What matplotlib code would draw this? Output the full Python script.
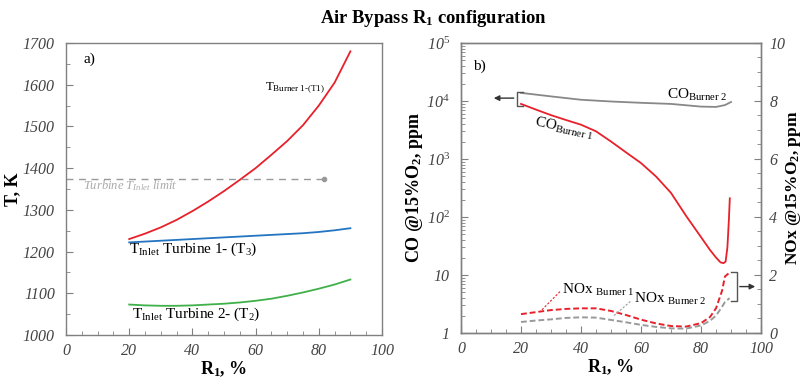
import matplotlib.pyplot as plt
import matplotlib.ticker as mticker

plt.rcParams['font.family'] = ['Liberation Serif', 'DejaVu Serif']
plt.rcParams['mathtext.fontset'] = 'custom'
plt.rcParams['mathtext.rm'] = 'Liberation Serif'
plt.rcParams['mathtext.it'] = 'Liberation Serif:italic'
plt.rcParams['mathtext.bf'] = 'Liberation Serif:bold'

# ---- panel a) temperatures ----
r1 = [20, 25, 30, 35, 40, 45, 50, 55, 60, 65, 70, 75, 80, 85, 90]
t_burner1 = [1230, 1243, 1258, 1276, 1297, 1320, 1345, 1372, 1400, 1432, 1465, 1503, 1550, 1605, 1680]
t_inlet1 = [1222, 1224, 1226, 1228, 1230, 1232, 1234, 1236, 1238, 1240, 1242, 1244, 1247, 1251, 1256]
t_inlet2 = [1073, 1071, 1070, 1070, 1071, 1073, 1075, 1078, 1082, 1087, 1094, 1102, 1111, 1121, 1133]
t_limit = 1375
t_limit_end = 81.5

# ---- panel b) emissions ----
r1_co2 = [20, 30, 40, 50, 60, 70, 80, 85, 88, 90]
co_burner2 = [13800, 12000, 10500, 9800, 9300, 8900, 8000, 7900, 8500, 9600]
r1_co1 = [20, 25, 30, 35, 40, 45, 50, 55, 60, 65, 70, 75, 80, 83, 85, 86.5, 87.5, 88.2, 88.8, 89.3, 89.6]
co_burner1 = [8900, 7100, 5700, 4700, 3900, 3000, 2000, 1300, 850, 500, 260, 105, 45, 27, 20, 16.5, 16, 17, 30, 90, 210]
r1_nox = [20, 25, 30, 35, 40, 45, 50, 55, 60, 65, 70, 75, 80, 83, 85, 87, 88, 89.5]
nox_burner1 = [0.65, 0.72, 0.79, 0.83, 0.85, 0.85, 0.76, 0.62, 0.46, 0.33, 0.24, 0.22, 0.34, 0.55, 0.85, 1.45, 1.95, 2.08]
nox_burner2 = [0.38, 0.43, 0.47, 0.52, 0.54, 0.53, 0.45, 0.37, 0.28, 0.21, 0.16, 0.15, 0.26, 0.42, 0.6, 0.9, 1.07, 1.2]

x_ticks = [0, 20, 40, 60, 80, 100]
t_ticks = [1000, 1100, 1200, 1300, 1400, 1500, 1600, 1700]
co_ticks = [1, 10, 100, 1000, 1e4, 1e5]
co_labels = ['1', '10', '10$^2$', '10$^3$', '10$^4$', '10$^5$']
nox_ticks = [0, 2, 4, 6, 8, 10]

tick_color = '#444444'
spine_color = '#808080'

fig = plt.figure(figsize=(8.03, 3.79), dpi=100)
ax1 = fig.add_axes([0.0822, 0.1161, 0.3935, 0.7704])
ax2 = fig.add_axes([0.5741, 0.1214, 0.3736, 0.7652])

fig.text(0.54, 0.952, r'Air Bypass R$_\mathbf{1}$ configuration', ha='center', va='center',
         fontsize=13.4, fontweight='bold')


def style_axis(ax, ypad=8):
    for s in ax.spines.values():
        s.set_color(spine_color)
        s.set_linewidth(1.0)
    ax.tick_params(which='both', direction='in', colors=spine_color, labelcolor=tick_color,
                   labelsize=11.5)
    ax.tick_params(which='major', length=5)
    ax.tick_params(which='minor', length=3)
    ax.tick_params(axis='x', pad=6)
    ax.tick_params(axis='y', pad=ypad)


# panel a
ax1.plot(r1, t_burner1, color='#e8202a', lw=1.3)
ax1.plot(r1, t_inlet1, color='#2474c0', lw=1.3)
ax1.plot(r1, t_inlet2, color='#3fb04a', lw=1.3)
ax1.plot([0, t_limit_end], [t_limit, t_limit], color='#999999', lw=1.0, ls=(0, (5, 4)))
ax1.plot([t_limit_end], [t_limit], 'o', color='#999999', ms=3)
ax1.set_xlim(0, 100)
ax1.set_ylim(1000, 1700)
ax1.set_xticks(x_ticks, [str(v) for v in x_ticks], fontstyle='italic')
ax1.set_yticks(t_ticks, [str(v) for v in t_ticks], fontstyle='italic')
ax1.xaxis.set_minor_locator(mticker.MultipleLocator(5))
ax1.yaxis.set_minor_locator(mticker.MultipleLocator(50))
style_axis(ax1)
ax1.set_xlabel(r'R$_\mathbf{1}$, %', fontsize=13, fontweight='bold', labelpad=0)
ax1.set_ylabel('T, K', fontsize=13, fontweight='bold', labelpad=1)
ax1.text(5.5, 1662, 'a)', fontsize=11, va='center')
ax1.text(63, 1592, r'T$_{\mathrm{Burner\ 1\text{-}(T1)}}$', fontsize=9.2, va='center')
ax1.text(19.8, 1196, r'T$_{\mathrm{Inlet}}$ Turbine 1- (T$_3$)', fontsize=11)
ax1.text(21, 1042, r'T$_{\mathrm{Inlet}}$ Turbine 2- (T$_2$)', fontsize=11)
ax1.text(5.5, 1359, r'Turbine T$_{Inlet}$ limit', fontsize=9, color='#aaaaaa',
         style='italic', va='center')

# panel b
ax2.plot(r1_co2, co_burner2, color='#888888', lw=1.3)
ax2.plot(r1_co1, co_burner1, color='#e8202a', lw=1.3)
ax2.set_yscale('log')
ax2.set_xlim(0, 100)
ax2.set_ylim(1, 1e5)
ax2.set_xticks(x_ticks, [str(v) for v in x_ticks], fontstyle='italic')
ax2.set_yticks(co_ticks, co_labels, fontstyle='italic')
ax2.xaxis.set_minor_locator(mticker.MultipleLocator(5))
ax2.yaxis.set_minor_locator(mticker.LogLocator(base=10, subs=range(2, 10), numticks=10))
ax2.yaxis.set_minor_formatter(mticker.NullFormatter())
style_axis(ax2)
ax2.set_xlabel(r'R$_\mathbf{1}$, %', fontsize=13, fontweight='bold', labelpad=0)
ax2.set_ylabel(r'CO @15%O$_\mathbf{2}$, ppm', fontsize=13, fontweight='bold', labelpad=1)
ax2.text(4, 3.5e4, 'b)', fontsize=11)
ax2.text(68.7, 1.1e4, r'CO$_{\mathrm{Burner\ 2}}$', fontsize=11)
ax2.text(24, 2300, r'CO$_{\mathrm{Burner\ 1}}$', fontsize=11, rotation=-12)

# bracket + arrow for CO (left axis)
ax2.plot([20.5, 18.5, 18.5, 20.5], [1.45e4, 1.45e4, 8.2e3, 8.2e3], color='#555555', lw=1.0)
ax2.annotate('', xy=(10, 1.12e4), xytext=(18.5, 1.12e4),
             arrowprops=dict(arrowstyle='-|>', color='#333333', lw=1.0, mutation_scale=8))

# secondary axis for NOx
ax3 = ax2.twinx()
ax3.plot(r1_nox, nox_burner1, color='#e8202a', lw=1.4, ls=(0, (3, 1.5)))
ax3.plot(r1_nox, nox_burner2, color='#999999', lw=1.4, ls=(0, (3, 1.5)))
ax3.set_ylim(0, 10)
ax3.set_yticks(nox_ticks, [str(v) for v in nox_ticks], fontstyle='italic')
ax3.yaxis.set_minor_locator(mticker.MultipleLocator(0.5))
style_axis(ax3, ypad=6)
ax3.set_ylabel(r'NOx @15%O$_\mathbf{2}$, ppm', fontsize=12.5, fontweight='bold', labelpad=-1)
ax3.text(33.6, 1.35, r'NOx $_{\mathrm{Burner\ 1}}$', fontsize=11)
ax3.text(57.5, 1.05, r'NOx $_{\mathrm{Burner\ 2}}$', fontsize=11)
ax3.plot([27, 33.2], [0.8, 1.45], color='#e8202a', lw=0.8, ls=(0, (2, 1.5)))
ax3.plot([51, 56.6], [0.6, 1.1], color='#999999', lw=0.8, ls=(0, (2, 1.5)))

# bracket + arrow for NOx (right axis)
ax3.plot([90, 92, 92, 90], [2.1, 2.1, 1.1, 1.1], color='#555555', lw=1.0)
ax3.annotate('', xy=(99, 1.6), xytext=(92, 1.6),
             arrowprops=dict(arrowstyle='-|>', color='#333333', lw=1.0, mutation_scale=8))

plt.savefig('out.png', dpi=100)
